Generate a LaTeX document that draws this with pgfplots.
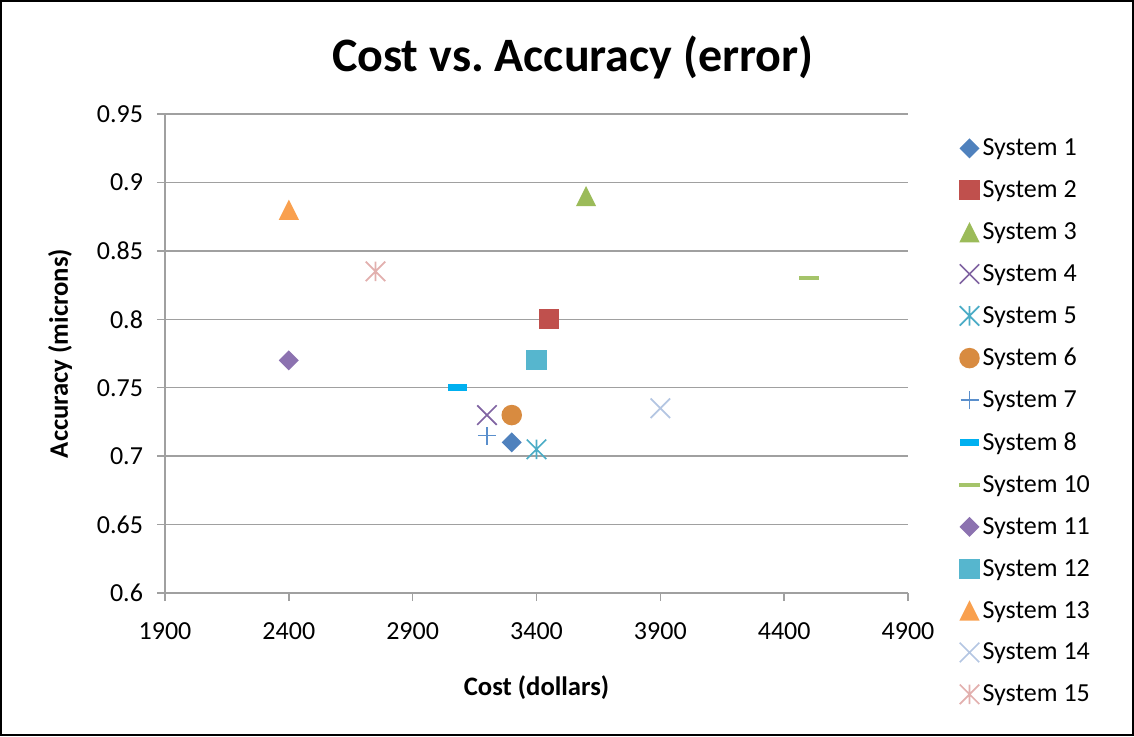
\documentclass[border=0pt]{standalone}
\usepackage{fontspec}
\setmainfont{Carlito}
\usepackage{pgfplots}
\pgfplotsset{compat=1.18}

\definecolor{c1}{HTML}{4F81BD}
\definecolor{c2}{HTML}{C0504D}
\definecolor{c3}{HTML}{9BBB59}
\definecolor{c4}{HTML}{8064A2}
\definecolor{c5}{HTML}{4BACC6}
\definecolor{c6}{HTML}{D88B40}
\definecolor{c7}{HTML}{5A8FCC}
\definecolor{c8}{HTML}{00B0F0}
\definecolor{c10}{HTML}{A5C46A}
\definecolor{c11}{HTML}{8C72B0}
\definecolor{c12}{HTML}{56B6CE}
\definecolor{c13}{HTML}{F9A04E}
\definecolor{c14}{HTML}{B4C6E2}
\definecolor{c15}{HTML}{E2B0AE}
\definecolor{gridgray}{HTML}{A0A0A0}

\pgfdeclareplotmark{xldiamond}{%
  \pgfpathmoveto{\pgfqpoint{0pt}{\pgfplotmarksize}}%
  \pgfpathlineto{\pgfqpoint{\pgfplotmarksize}{0pt}}%
  \pgfpathlineto{\pgfqpoint{0pt}{-\pgfplotmarksize}}%
  \pgfpathlineto{\pgfqpoint{-\pgfplotmarksize}{0pt}}%
  \pgfpathclose\pgfusepathqfill}
\pgfdeclareplotmark{xltri}{%
  \pgfpathmoveto{\pgfqpoint{0pt}{\pgfplotmarksize}}%
  \pgfpathlineto{\pgfqpoint{\pgfplotmarksize}{-\pgfplotmarksize}}%
  \pgfpathlineto{\pgfqpoint{-\pgfplotmarksize}{-\pgfplotmarksize}}%
  \pgfpathclose\pgfusepathqfill}
\pgfdeclareplotmark{xlsquare}{%
  \pgfpathrectangle{\pgfqpoint{-\pgfplotmarksize}{-\pgfplotmarksize}}{\pgfqpoint{2\pgfplotmarksize}{2\pgfplotmarksize}}%
  \pgfusepathqfill}
\pgfdeclareplotmark{xlx}{%
  \pgfpathmoveto{\pgfqpoint{-\pgfplotmarksize}{-\pgfplotmarksize}}%
  \pgfpathlineto{\pgfqpoint{\pgfplotmarksize}{\pgfplotmarksize}}%
  \pgfpathmoveto{\pgfqpoint{-\pgfplotmarksize}{\pgfplotmarksize}}%
  \pgfpathlineto{\pgfqpoint{\pgfplotmarksize}{-\pgfplotmarksize}}%
  \pgfusepathqstroke}
\pgfdeclareplotmark{xlstar}{%
  \pgfpathmoveto{\pgfqpoint{-\pgfplotmarksize}{-\pgfplotmarksize}}%
  \pgfpathlineto{\pgfqpoint{\pgfplotmarksize}{\pgfplotmarksize}}%
  \pgfpathmoveto{\pgfqpoint{-\pgfplotmarksize}{\pgfplotmarksize}}%
  \pgfpathlineto{\pgfqpoint{\pgfplotmarksize}{-\pgfplotmarksize}}%
  \pgfpathmoveto{\pgfqpoint{0pt}{-\pgfplotmarksize}}%
  \pgfpathlineto{\pgfqpoint{0pt}{\pgfplotmarksize}}%
  \pgfusepathqstroke}
\pgfdeclareplotmark{xlplus}{%
  \pgfpathmoveto{\pgfqpoint{-\pgfplotmarksize}{0pt}}%
  \pgfpathlineto{\pgfqpoint{\pgfplotmarksize}{0pt}}%
  \pgfpathmoveto{\pgfqpoint{0pt}{-\pgfplotmarksize}}%
  \pgfpathlineto{\pgfqpoint{0pt}{\pgfplotmarksize}}%
  \pgfusepathqstroke}
\pgfdeclareplotmark{xldash}{%
  \pgfpathrectangle{\pgfqpoint{-\pgfplotmarksize}{-.36\pgfplotmarksize}}{\pgfqpoint{2\pgfplotmarksize}{.72\pgfplotmarksize}}%
  \pgfusepathqfill}
\pgfdeclareplotmark{xlthindash}{%
  \pgfpathrectangle{\pgfqpoint{-\pgfplotmarksize}{-.17\pgfplotmarksize}}{\pgfqpoint{2\pgfplotmarksize}{.34\pgfplotmarksize}}%
  \pgfusepathqfill}
\pgfdeclareplotmark{xlcircle}{%
  \pgfpathcircle{\pgfpointorigin}{\pgfplotmarksize}%
  \pgfusepathqfill}

\begin{document}
\begin{tikzpicture}
\useasboundingbox (-123.75pt,-107.25pt) rectangle (726.75pt,444.75pt);
\draw[line width=1.5pt] (-123pt,-106.5pt) rectangle (726pt,444pt);
\begin{axis}[
  at={(0,0)}, anchor=south west,
  scale only axis,
  width=557.25pt, height=359.25pt,
  xmin=1900, xmax=4900, ymin=0.6, ymax=0.95,
  xtick={1900,2400,2900,3400,3900,4400,4900},
  ytick={0.6,0.65,0.7,0.75,0.8,0.85,0.9,0.95},
  axis x line*=bottom, axis y line*=left,
  axis line style={draw=gridgray, line width=1.1pt, -},
  tick style={draw=gridgray, line width=1.1pt},
  tick align=outside,
  major tick length=6pt,
  ymajorgrids,
  grid style={draw=gridgray, line width=1.1pt},
  tick label style={font=\fontsize{19.5}{23}\selectfont},
  xticklabel style={yshift=-13pt},
  yticklabel style={xshift=-7pt},
  /pgf/number format/assume math mode=true,
  /pgf/number format/1000 sep={},
  yticklabel={\pgfmathprintnumber[fixed,precision=2]{\tick}},
  xlabel={\textbf{Cost (dollars)}},
  ylabel={\textbf{Accuracy (microns)}},
  label style={font=\fontsize{20}{24}\selectfont},
  xlabel style={at={(axis description cs:0.5,-0.198)}, anchor=center},
  ylabel style={at={(axis description cs:-0.1413,0.5)}, anchor=center, rotate=0},
  legend cell align=left,
  legend style={at={(1.0685,0.954)}, anchor=north west, draw=none, fill=none,
    font=\fontsize{19.5}{23}\selectfont, row sep=13.25pt, inner sep=0pt},
  clip=false,
]
\addplot[only marks, color=c1, mark=xldiamond, mark size=7.5pt] coordinates {(3300,0.71)};
\addlegendentry{System 1}
\addplot[only marks, color=c2, mark=xlsquare, mark size=7.6pt] coordinates {(3450,0.80)};
\addlegendentry{System 2}
\addplot[only marks, color=c3, mark=xltri, mark size=7.6pt] coordinates {(3600,0.89)};
\addlegendentry{System 3}
\addplot[only marks, color=c4, mark=xlx, mark size=7.3pt, line width=1.25pt] coordinates {(3200,0.73)};
\addlegendentry{System 4}
\addplot[only marks, color=c5, mark=xlstar, mark size=7.3pt, line width=1.25pt] coordinates {(3400,0.705)};
\addlegendentry{System 5}
\addplot[only marks, color=c6, mark=xlcircle, mark size=7.7pt] coordinates {(3300,0.73)};
\addlegendentry{System 6}
\addplot[only marks, color=c7, mark=xlplus, mark size=6.75pt, line width=1.25pt] coordinates {(3200,0.715)};
\addlegendentry{System 7}
\addplot[only marks, color=c8, mark=xldash, mark size=7.1pt] coordinates {(3080,0.75)};
\addlegendentry{System 8}
\addplot[only marks, color=c10, mark=xlthindash, mark size=7.75pt] coordinates {(4500,0.83)};
\addlegendentry{System 10}
\addplot[only marks, color=c11, mark=xldiamond, mark size=7.5pt] coordinates {(2400,0.77)};
\addlegendentry{System 11}
\addplot[only marks, color=c12, mark=xlsquare, mark size=7.6pt] coordinates {(3400,0.77)};
\addlegendentry{System 12}
\addplot[only marks, color=c13, mark=xltri, mark size=7.6pt] coordinates {(2400,0.88)};
\addlegendentry{System 13}
\addplot[only marks, color=c14, mark=xlx, mark size=7.3pt, line width=1.25pt] coordinates {(3900,0.735)};
\addlegendentry{System 14}
\addplot[only marks, color=c15, mark=xlstar, mark size=7.3pt, line width=1.25pt] coordinates {(2750,0.835)};
\addlegendentry{System 15}
\node[font=\fontsize{36}{42}\selectfont\bfseries, anchor=center] at (axis description cs:0.549,1.117) {Cost vs.\ Accuracy (error)};
\end{axis}
\end{tikzpicture}
\end{document}
